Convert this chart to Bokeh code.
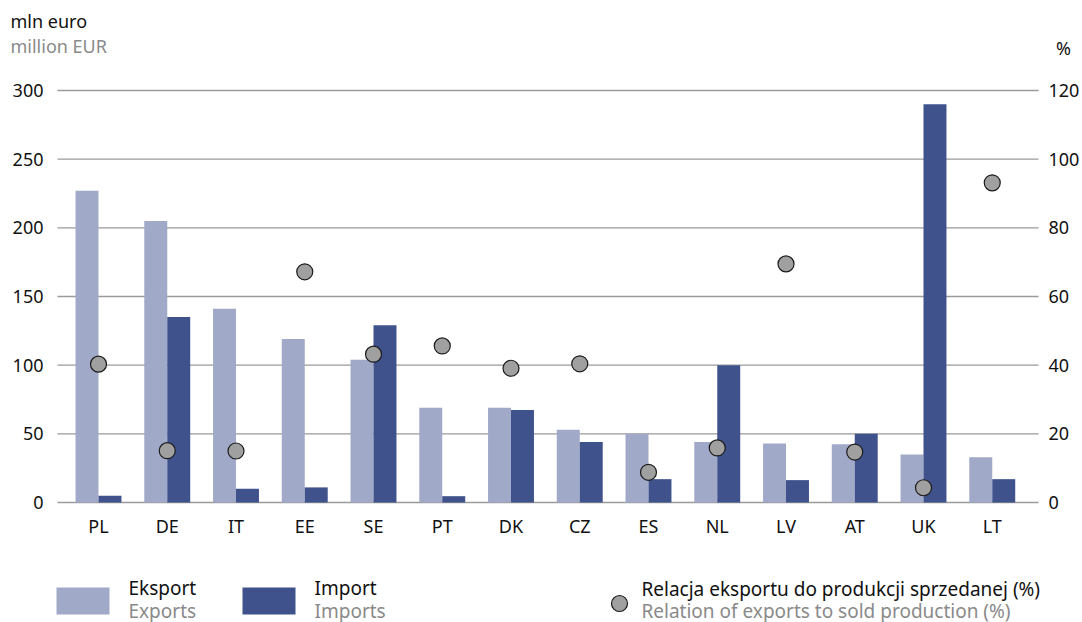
from bokeh.plotting import figure
from bokeh.models import Range1d, LinearAxis, FixedTicker, ColumnDataSource
from bokeh.core.properties import value
from bokeh.embed import file_html
from bokeh.resources import INLINE

countries = ["PL", "DE", "IT", "EE", "SE", "PT", "DK", "CZ", "ES", "NL", "LV", "AT", "UK", "LT"]
exports = [227, 205, 141, 119, 104, 69, 69, 53, 50, 44, 43, 42.5, 35, 33]
imports = [5, 135, 10, 11, 129, 4.6, 67.4, 44, 17, 100, 16.3, 50, 290, 17]
ratio = [40.3, 15.1, 15, 67.2, 43.2, 45.6, 39.1, 40.4, 8.8, 15.9, 69.5, 14.7, 4.3, 93.1]

left_ticks = [0, 50, 100, 150, 200, 250, 300]
right_ticks = [0, 20, 40, 60, 80, 100, 120]

EXP_COL = "#a1a9c8"
IMP_COL = "#3f528c"
DOT_FILL = "#a0a0a0"
DOT_LINE = "#1a1a1a"
BLACK = "#111111"
GREY = "#8a8a8a"
GRID = "#9a9a9a"
FONT = "Noto Sans"
BW = 0.334

# canvas / layout geometry (pixels)
W, H = 1082, 622
C0, PX = 98, 68.75          # pixel x of first category, pixels per category
BASE, TOP = 502, 90         # pixel y of value 0 and of the top gridline
PLOT_L, PLOT_R = 57, 1038   # left / right ends of the plot area
PY = (BASE - TOP) / left_ticks[-1]
PYR = (BASE - TOP) / right_ticks[-1]


def to_x(px):
    return (px - C0) / PX


p = figure(width=W, height=H, output_backend="svg", toolbar_location=None,
           x_range=Range1d(to_x(0), to_x(W)),
           y_range=Range1d(-(H - BASE) / PY, BASE / PY),
           x_axis_type=None, y_axis_type=None,
           min_border=0, min_border_left=0, min_border_right=0,
           min_border_top=0, min_border_bottom=0)
p.outline_line_color = None
p.grid.visible = False
p.extra_y_ranges = {"pct": Range1d(-(H - BASE) / PYR, BASE / PYR),
                    "py": Range1d(H, 0)}
p.extra_x_ranges = {"px": Range1d(0, W)}

idx = list(range(len(countries)))
src = ColumnDataSource(dict(
    x=idx,
    xe=[i - BW / 2 for i in idx],
    xi=[i + BW / 2 for i in idx],
    exports=exports,
    imports=imports,
    ratio=ratio,
))

# gridlines across the plot area
x_left, x_right = to_x(PLOT_L), to_x(PLOT_R)
p.segment(x0=[x_left] * len(left_ticks), x1=[x_right] * len(left_ticks),
          y0=left_ticks, y1=left_ticks, line_color=GRID, line_width=1.3)

p.vbar(x="xe", top="exports", width=BW, bottom=0, source=src, fill_color=EXP_COL, line_color=None)
p.vbar(x="xi", top="imports", width=BW, bottom=0, source=src, fill_color=IMP_COL, line_color=None)
p.scatter(x="x", y="ratio", source=src, y_range_name="pct", size=16,
          fill_color=DOT_FILL, line_color=DOT_LINE, line_width=1.2)

# axes at fixed positions
xa = LinearAxis(ticker=FixedTicker(ticks=idx), fixed_location=0,
                major_label_overrides={i: c for i, c in enumerate(countries)})
la = LinearAxis(ticker=FixedTicker(ticks=left_ticks), fixed_location=x_left, bounds=(0, 300))
ra = LinearAxis(ticker=FixedTicker(ticks=right_ticks), fixed_location=x_right,
                y_range_name="pct", bounds=(0, 120))
p.add_layout(xa, "below")
p.add_layout(la, "left")
p.add_layout(ra, "right")

for ax in [xa, la, ra]:
    ax.axis_line_color = None
    ax.major_tick_line_color = None
    ax.minor_tick_line_color = None
    ax.major_tick_out = 0
    ax.major_tick_in = 0
    ax.minor_tick_out = 0
    ax.minor_tick_in = 0
    ax.major_label_text_font = FONT
    ax.major_label_text_font_size = "18px"
    ax.major_label_text_color = BLACK
la.major_label_standoff = 14
ra.major_label_standoff = 10
xa.major_label_standoff = 11


def txt(x, y, t, col, size="18px", align="left"):
    p.text(x=[x], y=[y], text=[t], text_font=value(FONT), text_font_size=size,
           text_color=col, text_baseline="middle", text_align=align,
           x_range_name="px", y_range_name="py")


# header
txt(10, 20, "mln euro", BLACK)
txt(10, 45, "million EUR", GREY)
txt(1063, 47, "%", BLACK, align="center")

# legend
p.quad(left=[56], right=[109], top=[587], bottom=[614], fill_color=EXP_COL, line_color=None,
       x_range_name="px", y_range_name="py")
p.quad(left=[242], right=[295], top=[587], bottom=[614], fill_color=IMP_COL, line_color=None,
       x_range_name="px", y_range_name="py")
p.scatter(x=[619], y=[603], size=16, fill_color=DOT_FILL, line_color=DOT_LINE, line_width=1.2,
          x_range_name="px", y_range_name="py")
txt(128, 587, "Eksport", BLACK, "19px")
txt(128, 610, "Exports", GREY, "19px")
txt(314, 587, "Import", BLACK, "19px")
txt(314, 610, "Imports", GREY, "19px")
txt(641, 588, "Relacja eksportu do produkcji sprzedanej (%)", BLACK, "19px")
txt(641, 610, "Relation of exports to sold production (%)", GREY, "19px")

open("out.html", "w").write(file_html(p, INLINE))
